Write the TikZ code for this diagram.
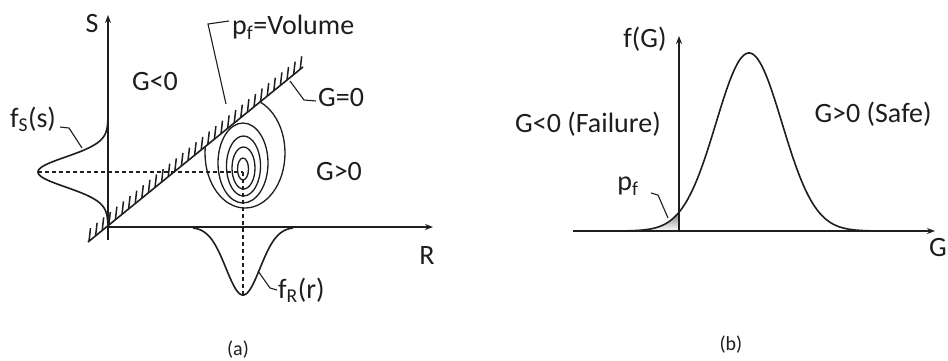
\documentclass[tikz,border=0pt]{standalone}
\usepackage{fontspec}
\setmainfont{Carlito}
\usetikzlibrary{arrows.meta}
\definecolor{ink}{HTML}{1E1E1E}
\definecolor{shade}{HTML}{A8A8A8}
\begin{document}
\begin{tikzpicture}[x=1pt,y=-1pt,
  lbl/.style={font=\fontsize{28}{32}\selectfont, text=ink, inner sep=0pt},
  axis/.style={draw=ink, line width=1.9pt},
  curve/.style={draw=ink, line width=1.6pt},
  lead/.style={draw=ink, line width=1.1pt},
  dashline/.style={draw=ink, line width=1.1pt, dash pattern=on 4pt off 3pt},
  ring/.style={draw=ink, line width=1.3pt},
  hatch/.style={draw=ink, line width=1.5pt},
  tip/.style={-{Stealth[length=8pt,width=6pt]}}]
\useasboundingbox (0,0) rectangle (948,360);
\fill[white] (0,0) rectangle (948,360);
\clip (0,0) rectangle (948,360);

% ---------------- panel (a) ----------------
\coordinate (Sbot) at (108,240);
\coordinate (Stop) at (108,15);
\coordinate (O) at (108,227);
\coordinate (Rend) at (433,227);
\coordinate (C) at (243,172);
\coordinate (Speak) at (38,172);
\coordinate (Rpeak) at (243,295);
\coordinate (L1) at (88,242);
\coordinate (L2) at (303,67);

\draw[axis,tip] (Sbot) -- (Stop);
\draw[axis,tip] (O) -- (Rend);

% limit state line with hatching
\draw[curve] (L1) -- (L2);
\foreach \i in {0,...,32} {
  \pgfmathsetmacro\hx{89+6.6*\i}
  \pgfmathsetmacro\hy{242-(\hx-88)*0.814}
  \draw[hatch] (\hx,\hy) -- ++(1.5,-13);
}

% joint density contours
\draw[ring] (243,169) ellipse [x radius=5.5, y radius=11];
\draw[ring] (243.5,168) ellipse [x radius=11.5, y radius=21];
\draw[ring] (243.5,166) ellipse [x radius=17, y radius=30];
\draw[ring] (243,163) ellipse [x radius=25, y radius=40];
\begin{scope}
  \clip (L1) -- (L2) -- (420,67) -- (420,320) -- (88,320) -- cycle;
  \draw[ring] (245,153) ellipse [x radius=40, y radius=55];
\end{scope}

% marginal densities
\draw[curve] plot[domain=118:226, samples=120, smooth] ({108-70*exp(-((\x-172)/15)^2/2)}, {\x});
\draw[curve] plot[domain=193:293, samples=120, smooth] ({\x}, {227+68*exp(-((\x-243)/17)^2/2)});

\draw[dashline] (Speak) -- (C);
\draw[dashline] (C) -- (Rpeak);

% labels (a)
\node[lbl] (lS) at (92,24) {S};
\node[lbl, anchor=west] (lpf) at (232,27) {p\textsubscript{f}=Volume};
\node[lbl] (lGneg) at (155,82) {G<0};
\node[lbl, anchor=west] (lGzero) at (318,98) {G=0};
\node[lbl] (lfs) at (33,119) {f\textsubscript{S}(s)};
\node[lbl] (lGpos) at (339,172) {G>0};
\node[lbl] (lR) at (427,256) {R};
\node[lbl, anchor=west] (lfr) at (278,290) {f\textsubscript{R}(r)};
\node[font=\fontsize{20}{24}\selectfont, text=ink, inner sep=0pt] (la) at (238,350) {(a)};

% leaders (a)
\coordinate (pfA) at (229,21);
\coordinate (pfB) at (208,24);
\coordinate (pfC) at (226,104);
\draw[lead] (pfA) -- (pfB) -- (pfC);
\coordinate (gzA) at (290,81);
\coordinate (gzB) at (304,100);
\coordinate (gzC) at (316,101);
\draw[lead] (gzA) -- (gzB) -- (gzC);
\coordinate (fsA) at (60,127);
\coordinate (fsB) at (69,128);
\coordinate (fsC) at (82,148);
\draw[lead] (fsA) -- (fsB) -- (fsC);
\coordinate (frA) at (258,271);
\coordinate (frB) at (270,288);
\coordinate (frC) at (277,290);
\draw[lead] (frA) -- (frB) -- (frC);

% ---------------- panel (b) ----------------
\coordinate (Gstart) at (573,231);
\coordinate (Gend) at (935,231);
\coordinate (Fbot) at (679,231);
\coordinate (Ftop) at (679,36);

\fill[shade] plot[domain=640:679, samples=40, smooth] ({\x}, {231-178*exp(-((\x-749)/33)^2/2)}) -- (Fbot) -- cycle;
\draw[axis,tip] (Gstart) -- (Gend);
\draw[axis,tip] (Fbot) -- (Ftop);
\draw[curve] plot[domain=623:875, samples=200, smooth] ({\x}, {231-178*exp(-((\x-749)/33)^2/2)});

\node[lbl] (lfG) at (645,39) {f(G)};
\node[lbl] (lfail) at (588,124) {G<0 (Failure)};
\node[lbl] (lsafe) at (873,114) {G>0 (Safe)};
\node[lbl] (lpfb) at (628,186) {p\textsubscript{f}};
\node[lbl, anchor=east] (lG) at (947,248) {G};
\node[font=\fontsize{20}{24}\selectfont, text=ink, inner sep=0pt] (lb) at (731,345) {(b)};

\coordinate (pbA) at (651,193);
\coordinate (pbB) at (658,195);
\coordinate (pbC) at (668,218);
\draw[lead] (pbA) -- (pbB) -- (pbC);
\end{tikzpicture}
\end{document}
